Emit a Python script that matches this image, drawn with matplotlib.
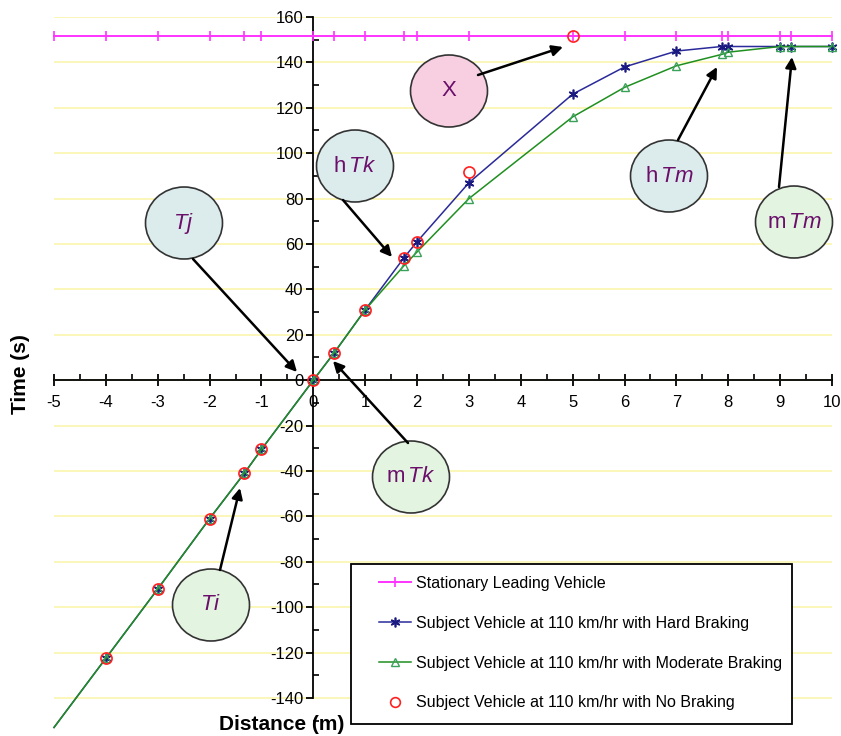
import matplotlib
matplotlib.use("Agg")
import matplotlib.pyplot as plt
from matplotlib.patches import Ellipse, FancyArrowPatch, Rectangle
from matplotlib.lines import Line2D
from matplotlib.ticker import MultipleLocator

plt.rcParams["font.family"] = ["Liberation Sans", "DejaVu Sans"]
plt.rcParams["mathtext.fontset"] = "custom"
plt.rcParams["mathtext.rm"] = "Liberation Sans"
plt.rcParams["mathtext.it"] = "Liberation Sans:italic"
plt.rcParams["axes.unicode_minus"] = False

W, H = 841, 736

# ---- data ----
stationary_x = [-5, -4, -3, -2, -1.33, -1, 0, 0.4, 1, 1.75, 2, 3, 5, 6, 7, 7.87, 8, 9, 9.2, 10]
stationary_y = [151.5] * len(stationary_x)

braking_x = [-5, -4, -3, -2, -1.33, -1, 0, 0.4, 1, 1.75, 2, 3, 5, 6, 7, 7.87, 8, 9, 9.2, 10]
hard_y = [-153, -122.5, -92, -61, -41, -30.5, 0, 12, 31, 54, 61, 87, 126, 138, 145, 147, 147, 147, 147, 147]
moderate_y = [-153, -122.5, -92, -61, -41, -30.5, 0, 12, 31, 50.5, 56.5, 80, 116, 129, 138.5, 143.5, 144.5, 147, 147, 147]

nobrake_x = [-4, -3, -2, -1.33, -1, 0, 0.4, 1, 1.75, 2, 3, 5]
nobrake_y = [-122.5, -92, -61, -41, -30.5, 0, 12, 31, 54, 61, 91.5, 151.5]

labels = [
    "Stationary Leading Vehicle",
    "Subject Vehicle at 110 km/hr with Hard Braking",
    "Subject Vehicle at 110 km/hr with Moderate Braking",
    "Subject Vehicle at 110 km/hr with No Braking",
]

# callout bubbles: text, centre (px), fill, arrow start (px), arrow tip (px)
BLUE_FILL = "#dcecec"
GREEN_FILL = "#e3f5e0"
PINK_FILL = "#f7cfe1"
bubbles = [
    (r"$\mathit{Tj}$", (184, 223), BLUE_FILL, (193, 259), (297, 372)),
    (r"$\mathrm{h}\,\mathit{Tk}$", (355, 166), BLUE_FILL, (343, 200), (392, 257)),
    (r"$\mathrm{X}$", (449, 91), PINK_FILL, (478, 75), (563, 47)),
    (r"$\mathrm{h}\,\mathit{Tm}$", (669, 176), BLUE_FILL, (678, 140), (717, 67)),
    (r"$\mathrm{m}\,\mathit{Tm}$", (794, 222), GREEN_FILL, (779, 187), (792, 57)),
    (r"$\mathrm{m}\,\mathit{Tk}$", (411, 477), GREEN_FILL, (408, 443), (333, 361)),
    (r"$\mathit{Ti}$", (211, 605), GREEN_FILL, (220, 570), (240, 488)),
]


def px(x, y):
    """pixel position (from top-left) -> figure fraction"""
    return x / W, 1 - y / H


fig = plt.figure(figsize=(W / 100, H / 100), dpi=100)
left, top = px(54, 17)
right, bottom = px(832, 732)
ax = fig.add_axes([left, bottom, right - left, top - bottom])
ax.set_xlim(-5, 10)
ax.set_ylim(-155, 160)

ax.plot(braking_x, hard_y, color="#2a2a9a", lw=1.1, marker=(6, 2, 0), ms=7,
        mec="#1a1a80", mew=1.2, markevery=range(1, len(braking_x)),
        zorder=3, clip_on=False)
ax.plot(braking_x, moderate_y, color="#1f8f1f", lw=1.1, marker="^", ms=6,
        mfc="none", mec="#3aa15a", mew=1.0, markevery=range(1, len(braking_x)),
        zorder=3.5, clip_on=False)
ax.plot(stationary_x, stationary_y, color="#ff33ff", lw=1.4, marker="|", ms=7,
        mew=1.2, zorder=4, clip_on=False)
ax.plot(nobrake_x, nobrake_y, ls="none", marker="o", ms=8, mfc="none",
        mec="#ff2020", mew=1.2, zorder=5, clip_on=False)

# axes through the origin
for side in ["top", "right"]:
    ax.spines[side].set_visible(False)
ax.spines["left"].set_position(("data", 0))
ax.spines["bottom"].set_position(("data", 0))
ax.spines["left"].set_bounds(-140, 160)
for side in ["left", "bottom"]:
    ax.spines[side].set_linewidth(1.3)
    ax.spines[side].set_zorder(2)

ax.xaxis.set_major_locator(MultipleLocator(1))
ax.xaxis.set_minor_locator(MultipleLocator(0.5))
ax.yaxis.set_minor_locator(MultipleLocator(10))
ax.set_yticks(range(-140, 161, 20))
ax.tick_params(axis="x", which="major", direction="inout", length=9, width=1.3,
               labelsize=12, pad=6)
ax.tick_params(axis="x", which="minor", direction="in", length=4, width=1.2)
ax.tick_params(axis="y", which="major", direction="out", length=5, width=1.3,
               labelsize=12, pad=2)
ax.tick_params(axis="y", which="minor", direction="in", length=4, width=1.2)

ax.yaxis.grid(True, which="major", color="#faf5a6", lw=1.1)
ax.set_axisbelow(True)

# axis titles
fig.text(*px(20, 374), "Time (s)", rotation=90, ha="center", va="center",
         fontsize=15, fontweight="bold")
fig.text(*px(282, 724), "Distance (m)", ha="center", va="center",
         fontsize=15, fontweight="bold")

# callouts
for text, (cx, cy), fill, start, tip in bubbles:
    fig.add_artist(Ellipse(px(cx, cy), 77 / W, 72 / H, transform=fig.transFigure,
                           facecolor=fill, edgecolor="#333333", lw=1.2, zorder=6))
    fig.text(*px(cx, cy), text, ha="center", va="center", fontsize=16,
             color="#6b0f6b", zorder=7)
    fig.add_artist(FancyArrowPatch(px(*start), px(*tip), transform=fig.transFigure,
                                   arrowstyle="-|>", mutation_scale=16, lw=1.8,
                                   color="black", shrinkA=0, shrinkB=0, zorder=7))

# legend with a square black frame
x0, y0 = px(351, 724)
x1, y1 = px(792, 564)
fig.add_artist(Rectangle((x0, y0), x1 - x0, y1 - y0, transform=fig.transFigure,
                         facecolor="white", edgecolor="black", lw=1.3, zorder=8))
handles = [
    Line2D([], [], color="#ff33ff", lw=1.4, marker="|", ms=7, mew=1.2),
    Line2D([], [], color="#2a2a9a", lw=1.1, marker=(6, 2, 0), ms=7, mec="#1a1a80", mew=1.2),
    Line2D([], [], color="#1f8f1f", lw=1.1, marker="^", ms=6, mfc="none", mec="#3aa15a"),
    Line2D([], [], ls="none", marker="o", ms=7, mfc="none", mec="#ff2020", mew=1.2),
]
leg = fig.legend(handles, labels, loc="upper left", bbox_to_anchor=px(379, 576),
                 frameon=False, fontsize=11.5, borderpad=0, borderaxespad=0,
                 handlelength=2.0, handletextpad=0.3, labelspacing=1.55)
leg.set_zorder(9)

fig.savefig("out.png", dpi=100)
